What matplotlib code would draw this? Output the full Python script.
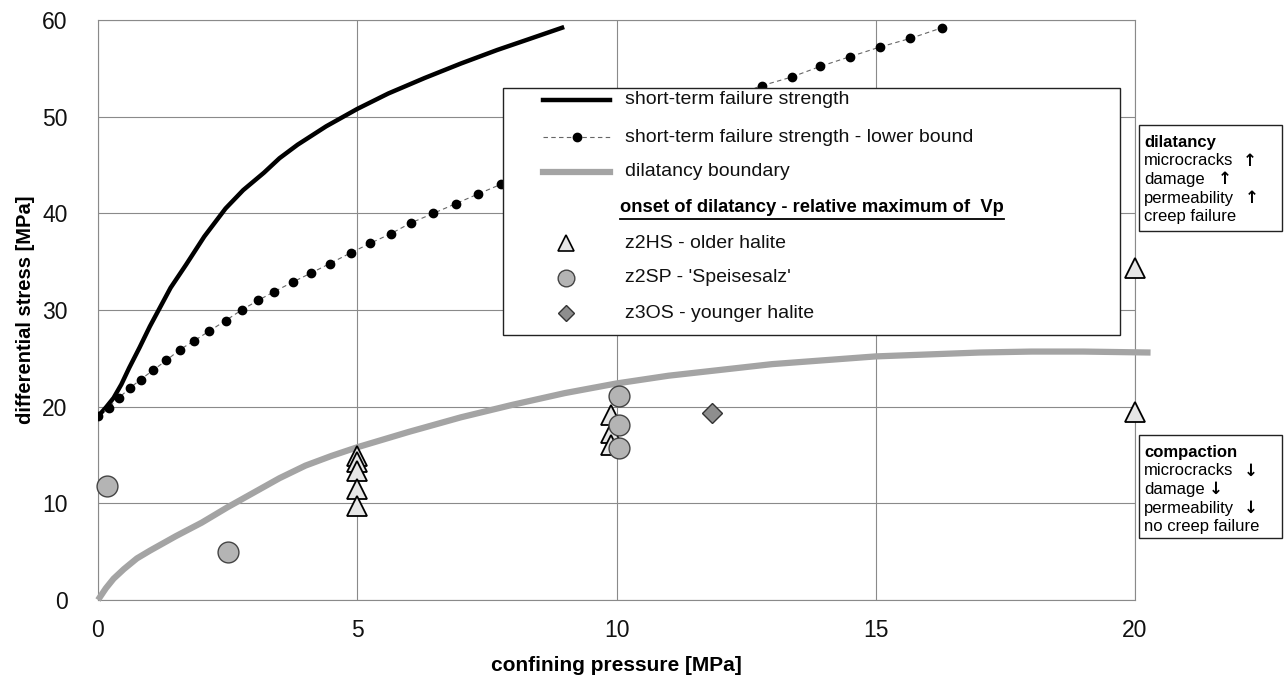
import matplotlib
matplotlib.use("Agg")
import matplotlib.pyplot as plt
from matplotlib.lines import Line2D
from matplotlib.patches import Rectangle

plt.rcParams['font.family'] = ['Liberation Sans', 'DejaVu Sans']

# kurz-zeit bruchfestigkeit (durchgezogene linie)
strength_x = [0, 0.15, 0.3, 0.45, 0.6, 0.8, 1.0, 1.15, 1.4, 1.7, 2.05, 2.46, 2.8, 3.2,
              3.5, 3.85, 4.4, 5.0, 5.6, 6.3, 7.0, 7.7, 8.3, 8.95]
strength_y = [19, 19.9, 20.9, 22.3, 24.0, 26.1, 28.3, 29.8, 32.3, 34.7, 37.6, 40.5, 42.4, 44.2,
              45.7, 47.1, 49.0, 50.8, 52.4, 54.0, 55.5, 56.9, 58.0, 59.2]

# untere grenze (punkte)
lower_x = [0, 0.21, 0.40, 0.61, 0.82, 1.07, 1.32, 1.58, 1.85, 2.14, 2.46, 2.77,
           3.09, 3.40, 3.76, 4.10, 4.47, 4.87, 5.25, 5.65, 6.03, 6.47, 6.90, 7.33,
           7.77, 8.22, 8.68, 9.15, 9.63, 10.12, 10.62, 11.14, 11.67, 12.22, 12.80,
           13.38, 13.93, 14.50, 15.08, 15.67, 16.28]
lower_y = [19, 19.9, 20.9, 21.9, 22.8, 23.8, 24.8, 25.9, 26.8, 27.8, 28.9, 30.0,
           31.0, 31.9, 32.9, 33.8, 34.8, 35.9, 36.9, 37.9, 39.0, 40.0, 41.0, 42.0,
           43.0, 44.0, 45.0, 46.0, 47.0, 48.0, 49.0, 50.0, 51.0, 52.1, 53.2,
           54.1, 55.2, 56.2, 57.2, 58.1, 59.2]

# dilatanzgrenze
dil_x = [0, 0.15, 0.3, 0.5, 0.75, 1, 1.5, 2, 2.5, 3, 3.5, 4, 4.5, 5, 6, 7, 8, 9, 10,
         11, 12, 13, 14, 15, 16, 17, 18, 19, 20.3]
dil_y = [0, 1.2, 2.2, 3.2, 4.3, 5.1, 6.6, 8.0, 9.6, 11.1, 12.6, 13.9, 14.9, 15.8, 17.4,
         18.9, 20.2, 21.4, 22.4, 23.2, 23.8, 24.4, 24.8, 25.2, 25.4, 25.6, 25.7, 25.7, 25.6]

# messpunkte
z2hs_x = [5, 5, 5, 5, 5, 9.9, 9.9, 9.9, 20, 20]
z2hs_y = [14.9, 14.3, 13.3, 11.5, 9.7, 19.1, 17.3, 16.0, 34.3, 19.4]
z2sp_x = [0.17, 2.5, 10.05, 10.05, 10.05]
z2sp_y = [11.8, 5.0, 21.1, 18.1, 15.7]
z3os_x = [11.85]
z3os_y = [19.3]

x_ticks = [0, 5, 10, 15, 20]
y_ticks = [0, 10, 20, 30, 40, 50, 60]

legend_labels = ['short-term failure strength',
                 'short-term failure strength - lower bound',
                 'dilatancy boundary',
                 'onset of dilatancy - relative maximum of  Vp',
                 'z2HS - older halite',
                 "z2SP - 'Speisesalz'",
                 'z3OS - younger halite']

dil_box = ['dilatancy', 'microcracks', 'damage', 'permeability', 'creep failure']
comp_box = ['compaction', 'microcracks', 'damage', 'permeability', 'no creep failure']

W, H = 1284, 678
fig = plt.figure(figsize=(W / 100, H / 100), dpi=100)
ax = fig.add_axes([98 / W, 1 - 600 / H, 1037 / W, 580 / H])

GRID = '#8a8a8a'
ax.set_xlim(0, 20)
ax.set_ylim(0, 60)
ax.set_xticks(x_ticks)
ax.set_yticks(y_ticks)
ax.grid(True, color=GRID, linewidth=0.8)
for s in ax.spines.values():
    s.set_color(GRID)
    s.set_linewidth(0.8)
ax.tick_params(length=0, labelsize=16.5, colors='#111111')
ax.tick_params(axis='x', pad=14)
ax.tick_params(axis='y', pad=22)

ax.plot(dil_x, dil_y, color='#a4a4a4', lw=4.5, solid_capstyle='butt',
        solid_joinstyle='round', clip_on=False, zorder=3)
ax.plot(strength_x, strength_y, color='black', lw=3.2, solid_joinstyle='round', zorder=4)
ax.plot(lower_x, lower_y, color='#666666', lw=0.8, ls=(0, (4, 3)), zorder=4)
ax.plot(lower_x, lower_y, 'o', color='black', ms=6, ls='none', zorder=4)

ax.plot(z2hs_x, z2hs_y, '^', ms=14, mfc='#e6e6e6', mec='black', mew=1.3,
        ls='none', clip_on=False, zorder=5)
ax.plot(z2sp_x, z2sp_y, 'o', ms=15, mfc='#b4b4b4', mec='#444444', mew=1.0,
        ls='none', clip_on=False, zorder=6)
ax.plot(z3os_x, z3os_y, 'D', ms=10, mfc='#8e8e8e', mec='#333333', mew=1.0,
        ls='none', clip_on=False, zorder=6)

ax.set_xlabel('confining pressure [MPa]', fontsize=15, fontweight='bold', labelpad=10)
ax.set_ylabel('differential stress [MPa]', fontsize=14.5, fontweight='bold', labelpad=5)


def fx(px):
    return px / W


def fy(py):
    return 1 - py / H


# legende von hand, damit abstaende wie im original
fig.add_artist(Rectangle((fx(503), fy(335)), fx(1120) - fx(503), fy(88) - fy(335),
                         transform=fig.transFigure, facecolor='white',
                         edgecolor='#222222', linewidth=1.0, zorder=5))
rows = [100, 137, 172, 208, 243, 278, 313]
h0, h1, hm = 543, 610, 566
fig.add_artist(Line2D([fx(h0), fx(h1)], [fy(rows[0])] * 2, color='black', lw=3.2,
                      transform=fig.transFigure, zorder=6))
fig.add_artist(Line2D([fx(h0), fx(h1)], [fy(rows[1])] * 2, color='#666666', lw=0.8,
                      ls=(0, (4, 3)), transform=fig.transFigure, zorder=6))
fig.add_artist(Line2D([fx(577)], [fy(rows[1])], marker='o', color='black', ms=6,
                      transform=fig.transFigure, zorder=6))
fig.add_artist(Line2D([fx(h0), fx(h1)], [fy(rows[2])] * 2, color='#a4a4a4', lw=4.5,
                      transform=fig.transFigure, zorder=6))
fig.add_artist(Line2D([fx(hm)], [fy(rows[4])], marker='^', ms=11, mfc='#e6e6e6',
                      mec='black', mew=1.2, transform=fig.transFigure, zorder=6))
fig.add_artist(Line2D([fx(hm)], [fy(rows[5])], marker='o', ms=12, mfc='#b4b4b4',
                      mec='#444444', mew=1.0, transform=fig.transFigure, zorder=6))
fig.add_artist(Line2D([fx(hm)], [fy(rows[6])], marker='D', ms=8, mfc='#8e8e8e',
                      mec='#333333', mew=1.0, transform=fig.transFigure, zorder=6))

for i, lab in enumerate(legend_labels):
    if i == 3:
        t = fig.text(fx(620), fy(rows[i]), lab, fontsize=13.2, fontweight='bold',
                     va='center', ha='left', zorder=7)
        heading = t
    else:
        fig.text(fx(625), fy(rows[i]), lab, fontsize=14, va='center', ha='left',
                 color='#111111', zorder=7)

# unterstreichung der ueberschrift
fig.canvas.draw()
bb = heading.get_window_extent()
fig.add_artist(Line2D([bb.x0 / W, bb.x1 / W], [fy(rows[3] + 11)] * 2, color='black',
                      lw=1.3, transform=fig.transFigure, zorder=7))


def side_box(top, bottom, lines, arrow_x, arrow):
    fig.add_artist(Rectangle((fx(1139), fy(bottom)), fx(1282) - fx(1139), fy(top) - fy(bottom),
                             transform=fig.transFigure, facecolor='white',
                             edgecolor='#222222', linewidth=1.0, zorder=5))
    for i, txt in enumerate(lines):
        y = fy(top + 17 + i * 18.7)
        fig.text(fx(1144), y, txt, fontsize=12, va='center', ha='left',
                 fontweight='bold' if i == 0 else 'normal', zorder=7)
        if 1 <= i <= 3:
            fig.text(fx(arrow_x[i - 1]), y, arrow, fontsize=12, va='center', ha='center',
                     fontweight='bold', family='DejaVu Sans', zorder=7)


side_box(125, 231, dil_box, [1250, 1225, 1252], '\u2191')
side_box(435, 538, comp_box, [1251, 1216, 1251], '\u2193')

fig.savefig('out.png', dpi=100)
